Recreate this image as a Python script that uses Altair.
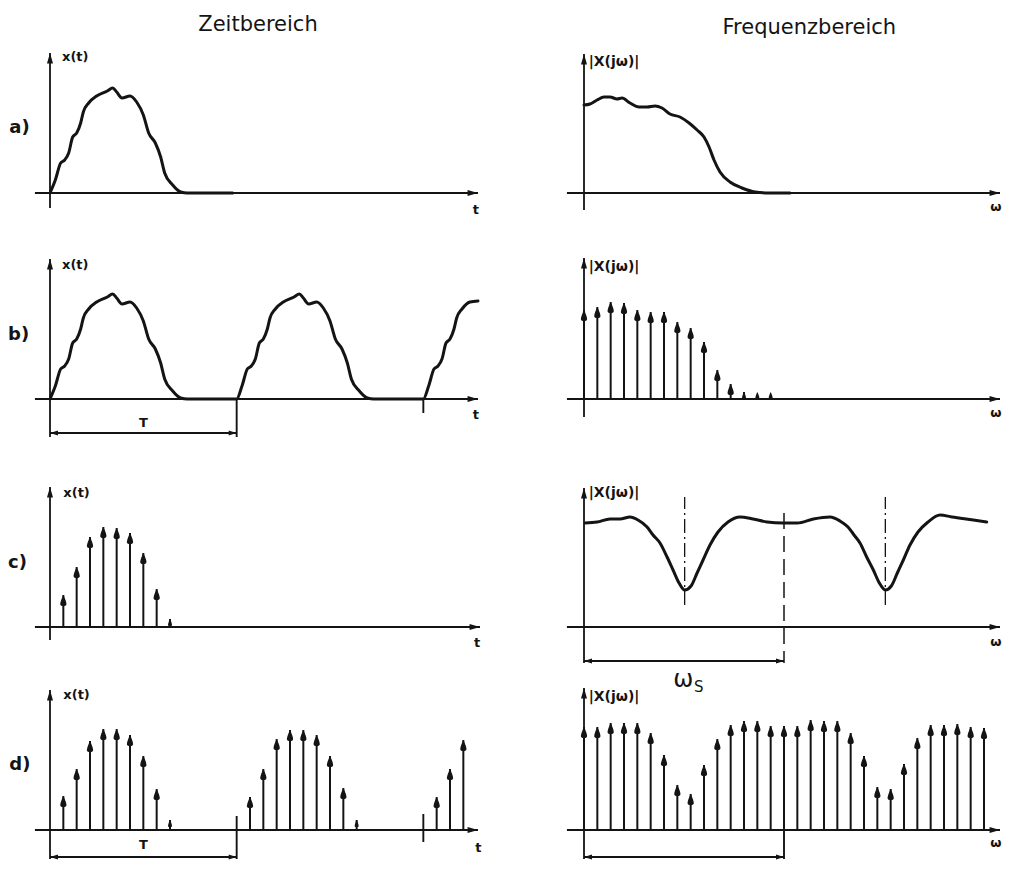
import altair as alt
import pandas as pd

# ------------------------------------------------------------------
# Values.
# x: multiples of the sampling interval, y: amplitude (arbitrary units)
# ------------------------------------------------------------------
title_left = "Zeitbereich"
title_right = "Frequenzbereich"
row_labels = ["a)", "b)", "c)", "d)"]

# a) left: single pulse x(t)
pulse_t = [0, 0.4, 0.8, 1.1, 1.4, 1.7, 2.0, 2.3, 2.5, 2.9, 3.5, 4.3, 4.7, 5.0,
           5.4, 6.0, 6.5, 7.0, 7.4, 7.9, 8.3, 8.6, 9.2, 9.8, 10.3]
pulse_x = [0, 0.13, 0.30, 0.33, 0.40, 0.56, 0.60, 0.70, 0.81, 0.90, 0.97, 1.02,
           1.05, 1.01, 0.95, 0.97, 0.91, 0.78, 0.60, 0.50, 0.36, 0.20, 0.08, 0.01, 0]
a_zero_end = 13.7

# a) right: continuous spectrum |X(jw)|
spec_w = [0, 0.45, 0.98, 1.5, 1.95, 2.48, 2.85, 3.45, 4.13, 4.73, 5.33, 5.85, 6.45,
          7.2, 7.88, 8.48, 9.0, 9.38, 9.75, 10.2, 10.95, 11.85, 12.83, 13.88, 15.45]
spec_X = [0.88, 0.89, 0.93, 0.96, 0.96, 0.94, 0.95, 0.90, 0.86, 0.86, 0.87, 0.85,
          0.79, 0.76, 0.70, 0.63, 0.56, 0.46, 0.33, 0.21, 0.11, 0.05, 0.01, 0, 0]

# b) left: periodic continuation with period T
T_period = 14
b_starts = [0, 14, 28]
b_end_t, b_end_x = 32.1, 0.98

# b) right: line spectrum
lines_k = list(range(15))
lines_X = [0.89, 0.92, 0.97, 0.96, 0.89, 0.87, 0.87, 0.77, 0.71, 0.57, 0.29,
           0.15, 0.07, 0.03, 0.01]

# c) left: samples of the pulse
samp_n = [1, 2, 3, 4, 5, 6, 7, 8, 9]
samp_x = [0.32, 0.60, 0.90, 1.00, 0.99, 0.94, 0.74, 0.38, 0.08]

# c) right: periodic spectrum of the sampled signal
cspec_w = [0.08, 0.98, 1.95, 2.7, 3.45, 4.05, 4.73, 5.18, 5.7, 6.23, 6.68, 7.13,
           7.55, 8.03, 8.48, 8.93, 9.45, 10.05, 10.8, 11.7, 12.68, 13.73, 14.93,
           16.0, 17.2, 18.45, 19.2, 19.8, 20.25, 20.7, 21.2, 21.7, 22.15, 22.6,
           23.05, 23.5, 23.95, 24.45, 25.05, 25.8, 26.7, 27.6, 29.2, 30.2]
cspec_X = [1.04, 1.05, 1.08, 1.08, 1.10, 1.07, 1.00, 0.92, 0.84, 0.70, 0.57, 0.44,
           0.37, 0.41, 0.54, 0.67, 0.82, 0.95, 1.05, 1.10, 1.08, 1.05, 1.04,
           1.04, 1.08, 1.10, 1.06, 1.00, 0.92, 0.84, 0.70, 0.57, 0.44, 0.37,
           0.41, 0.54, 0.67, 0.82, 0.95, 1.05, 1.12, 1.10, 1.07, 1.05]
omega_s = 15
c_minima = [7.55, 22.6]

# d) left: periodic sampled signal
d_n = [1, 2, 3, 4, 5, 6, 7, 8, 9, 15, 16, 17, 18, 19, 20, 21, 22, 23, 29, 30, 31]
d_x = [0.34, 0.61, 0.89, 1.01, 1.01, 0.95, 0.74, 0.41, 0.10,
       0.33, 0.61, 0.91, 1.00, 1.00, 0.95, 0.74, 0.42, 0.10,
       0.33, 0.61, 0.90]

# d) right: periodic line spectrum
d_k = list(range(31))
d_X = [1.03, 1.03, 1.07, 1.07, 1.07, 0.97, 0.75, 0.45, 0.36, 0.65, 0.91, 1.05,
       1.09, 1.09, 1.04, 1.04, 1.04, 1.10, 1.09, 1.09, 0.97, 0.74, 0.43, 0.41,
       0.66, 0.92, 1.05, 1.05, 1.06, 1.03, 1.02]

# ------------------------------------------------------------------
# Layout / style
# ------------------------------------------------------------------
PX = 40 / 3      # pixels per x unit
PY = 100         # pixels per y unit
LEFT_W, RIGHT_W = 512, 482
LEFT_ORIGIN, RIGHT_ORIGIN = 42, 64
ROWS = [(217, 185), (225, 174), (222, 177), (189, 158)]  # (height, baseline)
INK = "#141414"
FONT = "DejaVu Sans"

TEAR = ("M0,0 C0.25,0.5 0.5,1.1 0.5,1.5 C0.5,1.9 -0.5,1.9 -0.5,1.5 "
        "C-0.5,1.1 -0.25,0.5 0,0 Z")
TRI = "M0,0 L0.55,1.9 L-0.55,1.9 Z"
BTRI = "M0,0 L0.6,2 L-0.6,2 Z"


class Panel:
    def __init__(self, side, row):
        w = LEFT_W if side == "L" else RIGHT_W
        o = LEFT_ORIGIN if side == "L" else RIGHT_ORIGIN
        h, base = ROWS[row]
        self.w, self.h = w, h
        self.xs = alt.Scale(domain=[-o / PX, (w - o) / PX], nice=False, zero=False)
        self.ys = alt.Scale(domain=[-(h - base) / PY, base / PY], nice=False, zero=False)
        self.layers = []

    def enc(self):
        return dict(x=alt.X("x:Q", scale=self.xs, axis=None),
                    y=alt.Y("y:Q", scale=self.ys, axis=None))

    def seg(self, x, y, x2, y2, width=1.9, dash=None):
        df = pd.DataFrame({"x": [x], "y": [y], "x2": [x2], "y2": [y2]})
        kw = dict(color=INK, strokeWidth=width, strokeCap="butt")
        if dash:
            kw["strokeDash"] = dash
        self.layers.append(alt.Chart(df).mark_rule(**kw).encode(
            **self.enc(), x2="x2:Q", y2="y2:Q"))

    def heads(self, xs, ys, shape, size, angle=0):
        df = pd.DataFrame({"x": xs, "y": ys})
        self.layers.append(alt.Chart(df).mark_point(
            shape=shape, filled=True, color=INK, opacity=1, strokeWidth=0,
            size=size, angle=angle).encode(**self.enc()))

    def text(self, x, y, s, size=12, align="left", weight="bold"):
        df = pd.DataFrame({"x": [x], "y": [y], "s": [s]})
        self.layers.append(alt.Chart(df).mark_text(
            text=s, font=FONT, fontSize=size, fontWeight=weight, color=INK,
            align=align, baseline="middle").encode(**self.enc()))

    def curve(self, xs, ys, width=3.0):
        df = pd.DataFrame({"x": xs, "y": ys})
        self.layers.append(alt.Chart(df).mark_line(
            color=INK, strokeWidth=width, interpolate="monotone",
            strokeJoin="round", strokeCap="round").encode(**self.enc()))

    def stems(self, xs, hs):
        df = pd.DataFrame({"x": xs, "y": [0] * len(xs), "y2": hs})
        self.layers.append(alt.Chart(df).mark_rule(color=INK, strokeWidth=2).encode(
            **self.enc(), y2="y2:Q"))
        big = [(x, h) for x, h in zip(xs, hs) if h >= 0.15]
        small = [(x, max(h, 0.07)) for x, h in zip(xs, hs) if h < 0.15]
        if big:
            self.heads([b[0] for b in big], [b[1] for b in big], TEAR, 156)
        if small:
            self.heads([s[0] for s in small], [s[1] for s in small], TEAR, 64)

    def axes(self, x0, x1, y0, y1):
        self.seg(x0, 0, x1, 0, width=2.0)
        self.seg(0, y0, 0, y1, width=1.8)
        self.heads([x1], [0], TRI, 121, angle=90)
        self.heads([0], [y1], TRI, 121)

    def bracket(self, x1, y, label=None, ly=None):
        self.seg(0, y, x1, y, width=1.8)
        self.heads([0], [y], BTRI, 64, angle=270)
        self.heads([x1], [y], BTRI, 64, angle=90)
        if label:
            self.text(x1 / 2, ly, label, size=13, align="center")

    def chart(self):
        return alt.layer(*self.layers).properties(width=self.w, height=self.h)


panels = {}
for r in range(4):
    L, R = Panel("L", r), Panel("R", r)
    panels[r] = (L, R)

LX0, LX1 = -1.13, 32.1
RX0, RX1 = -1.28, 31.2
YTOP_L, YTOP_R = 1.40, 1.39
XT_SIZE, XJ_SIZE, ROW_SIZE = 13, 14, 18

# ---- row a ----
L, R = panels[0]
L.axes(LX0, LX1, -0.15, YTOP_L)
L.curve(pulse_t + [a_zero_end], pulse_x + [0])
L.text(0.9, 1.36, "x(t)", size=XT_SIZE)
L.text(31.7, -0.17, "t", size=13)
L.text(-3.05, 0.65, row_labels[0], size=ROW_SIZE)
L.text(15.6, 1.68, title_left, size=21, align="center", weight="normal")
R.axes(RX0, RX1, -0.17, YTOP_R)
R.curve(spec_w, spec_X)
R.text(0.35, 1.31, "|X(jω)|", size=XJ_SIZE)
R.text(30.9, -0.14, "ω", size=13, align="center")
R.text(16.9, 1.65, title_right, size=21, align="center", weight="normal")

# ---- row b ----
L, R = panels[1]
L.axes(LX0, LX1, -0.38, YTOP_L)
bt, bx = [], []
for s in b_starts:
    for t, v in zip(pulse_t, pulse_x):
        if s + t < b_end_t:
            bt.append(s + t)
            bx.append(v)
bt.append(b_end_t)
bx.append(b_end_x)
L.curve(bt, bx)
L.seg(T_period, 0, T_period, -0.38)
L.seg(2 * T_period, 0, 2 * T_period, -0.14)
L.bracket(T_period, -0.34, "T", -0.24)
L.text(0.9, 1.34, "x(t)", size=XT_SIZE)
L.text(31.7, -0.16, "t", size=13)
L.text(-3.15, 0.64, row_labels[1], size=ROW_SIZE)
R.axes(RX0, RX1, -0.18, YTOP_R + 0.02)
R.stems(lines_k, lines_X)
R.text(0.35, 1.32, "|X(jω)|", size=XJ_SIZE)
R.text(30.9, -0.14, "ω", size=13, align="center")

# ---- row c ----
L, R = panels[2]
L.axes(LX0, 32.25, -0.13, YTOP_L)
L.stems(samp_n, samp_x)
L.text(1.0, 1.34, "x(t)", size=XT_SIZE)
L.text(31.8, -0.16, "t", size=13)
L.text(-3.15, 0.64, row_labels[2], size=ROW_SIZE)
R.axes(RX0, RX1, -0.36, YTOP_R)
R.curve(cspec_w, cspec_X)
for m in c_minima:
    R.seg(m, 0.22, m, 1.30, width=1.3, dash=[14, 4, 2, 4])
R.seg(omega_s, 1.14, omega_s, -0.36, width=1.5, dash=[16, 7])
R.bracket(omega_s, -0.34)
R.text(7.45, -0.53, "ω", size=24, align="center", weight="normal")
R.text(8.6, -0.60, "S", size=15, align="center", weight="normal")
R.text(0.35, 1.34, "|X(jω)|", size=XJ_SIZE)
R.text(30.9, -0.15, "ω", size=13, align="center")

# ---- row d ----
L, R = panels[3]
L.axes(LX0, LX1, -0.29, YTOP_L)
L.stems(d_n, d_x)
L.seg(T_period, 0.14, T_period, -0.29)
L.seg(2 * T_period, 0.16, 2 * T_period, -0.12)
L.bracket(T_period, -0.27, "T", -0.15)
L.text(1.0, 1.35, "x(t)", size=XT_SIZE)
L.text(31.9, -0.18, "t", size=13)
L.text(-3.05, 0.65, row_labels[3], size=ROW_SIZE)
R.axes(RX0, RX1, -0.29, YTOP_R + 0.03)
R.stems(d_k, d_X)
R.seg(omega_s, 0, omega_s, -0.29)
R.bracket(omega_s, -0.27)
R.text(0.35, 1.33, "|X(jω)|", size=XJ_SIZE)
R.text(30.9, -0.13, "ω", size=13, align="center")

cells = []
for r in range(4):
    L, R = panels[r]
    cells += [L.chart(), R.chart()]

chart = (alt.concat(*cells, columns=2, spacing=0, bounds="flush")
         .resolve_scale(x="independent", y="independent")
         .properties(padding=0, background="white")
         .configure_view(stroke=None))

chart.save("out.html", embed_options={"renderer": "svg", "actions": False})
